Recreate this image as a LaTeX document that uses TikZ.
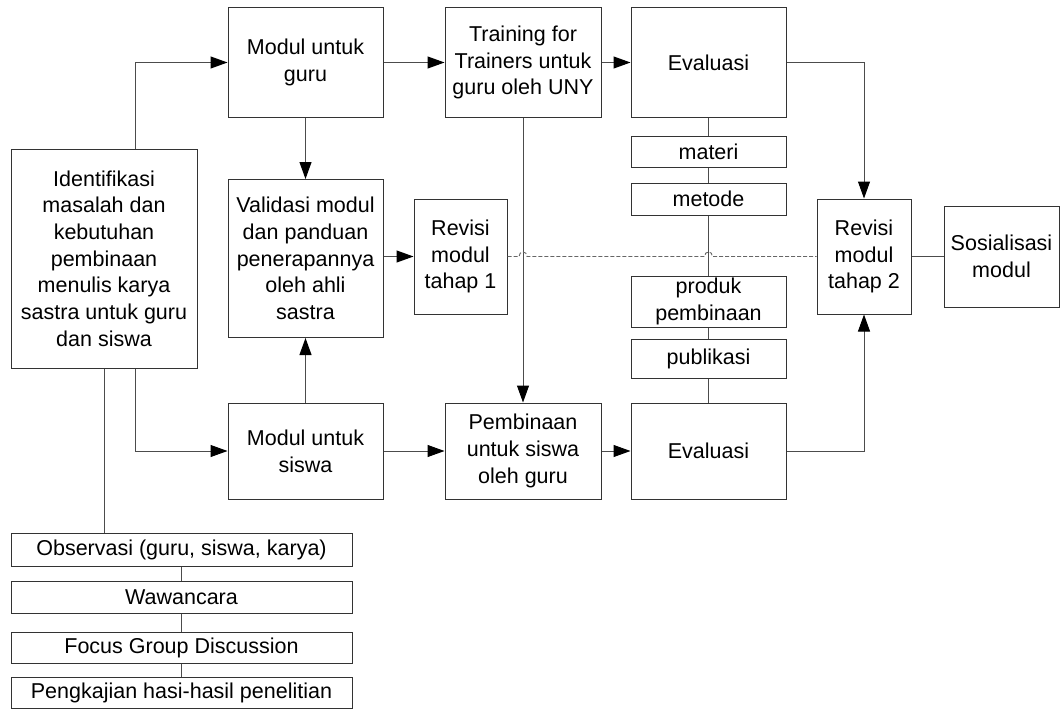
\documentclass[tikz,border=0pt]{standalone}
\usepackage{fontspec}
\setmainfont{Liberation Sans}
\usetikzlibrary{arrows.meta,calc}
\begin{document}
\begin{tikzpicture}[x=1pt,y=-1pt,
  box/.style={draw=black!80,line width=1pt,fill=white,inner sep=0pt,align=center,
    font=\fontsize{21.5}{26.7}\selectfont},
  conn/.style={draw=black!70,line width=1pt},
  arr/.style={conn,-{Triangle[length=17pt,width=12pt,black]}},
  dashline/.style={draw=black!60,line width=0.9pt,dash pattern=on 4pt off 2pt}]
\useasboundingbox (0,0) rectangle (1060,709);
\fill[white] (0,0) rectangle (1060,709);
% boxes
\node[box,minimum width=186pt,minimum height=219pt] (ident) at (104,258.5)
  {Identifikasi\\masalah dan\\kebutuhan\\pembinaan\\menulis karya\\sastra untuk guru\\dan siswa};
\node[box,minimum width=155pt,minimum height=109pt] (mguru) at (305.5,62.5) {Modul untuk\\guru};
\node[box,minimum width=156pt,minimum height=109pt] (train) at (523,62.5) {Training for\\Trainers untuk\\guru oleh UNY};
\node[box,minimum width=155pt,minimum height=109pt] (eval1) at (708.5,62.5) {Evaluasi};
\node[box,minimum width=155pt,minimum height=31pt] (materi) at (708.5,151.5) {materi};
\node[box,minimum width=155pt,minimum height=32pt] (metode) at (708.5,199) {metode};
\node[box,minimum width=155pt,minimum height=51pt] (produk) at (708.5,301.5) {produk\\pembinaan};
\node[box,minimum width=155pt,minimum height=39pt] (publik) at (708.5,358.5) {publikasi};
\node[box,minimum width=155pt,minimum height=96pt] (eval2) at (708.5,451) {Evaluasi};
\node[box,minimum width=155pt,minimum height=158pt] (val) at (305.5,258.5)
  {Validasi modul\\dan panduan\\penerapannya\\oleh ahli\\sastra};
\node[box,minimum width=93pt,minimum height=115pt] (rev1) at (460.5,256.5) {Revisi\\modul\\tahap 1};
\node[box,minimum width=94pt,minimum height=115pt] (rev2) at (864,256.5) {Revisi\\modul\\tahap 2};
\node[box,minimum width=115pt,minimum height=101pt] (sos) at (1001.5,256.5) {Sosialisasi\\modul};
\node[box,minimum width=155pt,minimum height=96pt] (msiswa) at (305.5,451) {Modul untuk\\siswa};
\node[box,minimum width=156pt,minimum height=96pt] (pemb) at (523,451) {Pembinaan\\untuk siswa\\oleh guru};
\node[box,minimum width=341pt,minimum height=33pt] (obs) at (181.5,549.5) {Observasi (guru, siswa, karya)};
\node[box,minimum width=341pt,minimum height=32pt] (waw) at (181.5,597) {Wawancara};
\node[box,minimum width=341pt,minimum height=31pt] (fgd) at (181.5,647.5) {Focus Group Discussion};
\node[box,minimum width=341pt,minimum height=31pt] (peng) at (181.5,692.5) {Pengkajian hasi-hasil penelitian};
\coordinate (cx) at (135,0);
% arrows
\draw[arr] (ident.north -| cx) |- (mguru.west);
\draw[arr] (ident.south -| cx) |- (msiswa.west);
\draw[arr] (mguru.east) -- (train.west);
\draw[arr] (train.east) -- (eval1.west);
\draw[arr] (mguru.south) -- (val.north);
\draw[arr] (msiswa.north) -- (val.south);
\draw[arr] (val.east |- rev1.west) -- (rev1.west);
\draw[arr] (train.south) -- (pemb.north);
\draw[arr] (msiswa.east) -- (pemb.west);
\draw[arr] (pemb.east) -- (eval2.west);
\draw[arr] (eval1.east) -| (rev2.north);
\draw[arr] (eval2.east) -| (rev2.south);
% plain lines
\draw[conn] (rev2.east) -- (sos.west);
\draw[conn] (eval1.south) -- (materi.north);
\draw[conn] (materi.south) -- (metode.north);
\draw[conn] (metode.south) -- (produk.north);
\draw[conn] (produk.south) -- (publik.north);
\draw[conn] (publik.south) -- (eval2.north);
\draw[conn] (ident.south) -- (ident.south |- obs.north);
\draw[conn] (obs.south) -- (waw.north);
\draw[conn] (waw.south) -- (fgd.north);
\draw[conn] (fgd.south) -- (peng.north);
% dashed line with hops
\draw[dashline] (rev1.east) -- ($(train.south |- rev1.east)+(-4,0)$)
  .. controls ($(train.south |- rev1.east)+(-4,-6)$) and ($(train.south |- rev1.east)+(4,-6)$) ..
  ($(train.south |- rev1.east)+(4,0)$) -- ($(metode.south |- rev1.east)+(-4,0)$)
  .. controls ($(metode.south |- rev1.east)+(-4,-6)$) and ($(metode.south |- rev1.east)+(4,-6)$) ..
  ($(metode.south |- rev1.east)+(4,0)$) -- (rev2.west);
\end{tikzpicture}
\end{document}
